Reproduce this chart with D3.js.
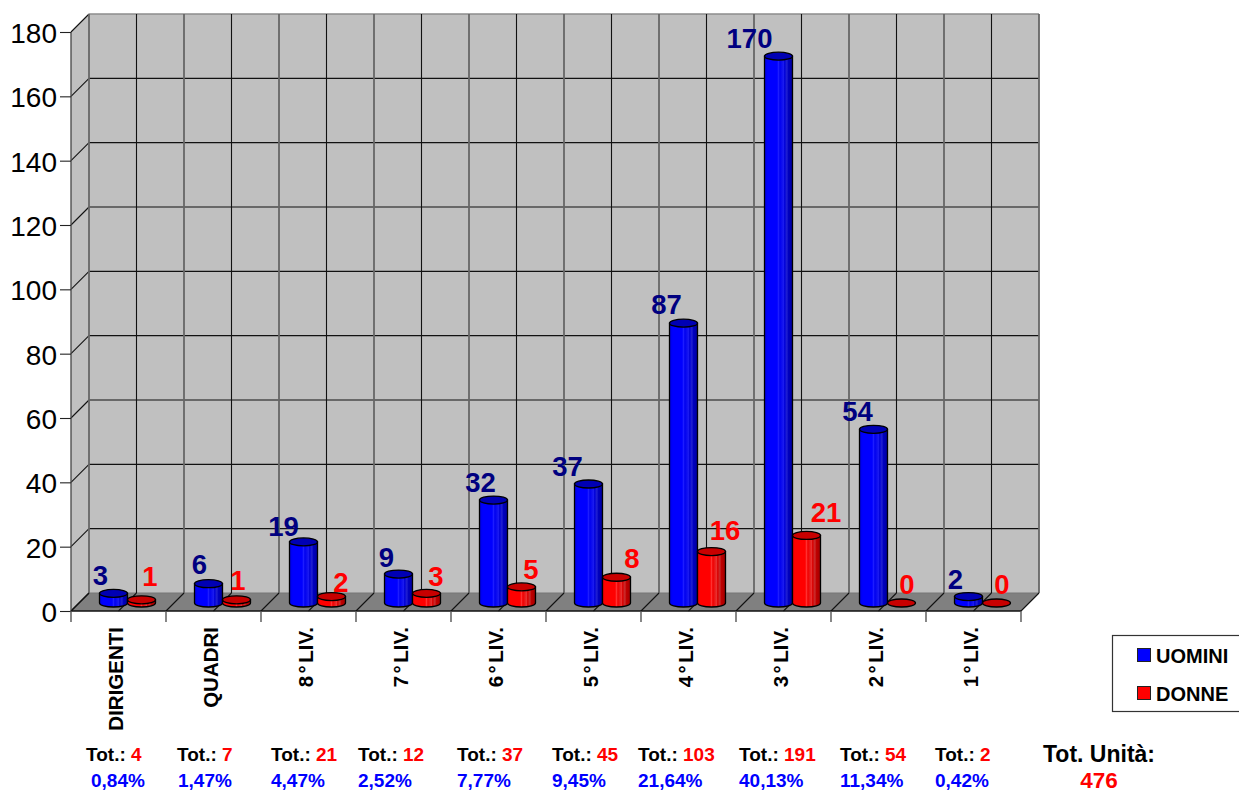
<!DOCTYPE html>
<html><head><meta charset="utf-8">
<script src="https://cdn.jsdelivr.net/npm/d3@7/dist/d3.min.js"></script>
<style>html,body{margin:0;padding:0;background:#fff;overflow:hidden}svg{display:block}text{font-family:"Liberation Sans",Arial,sans-serif}</style>
</head><body><svg id="c" width="1239" height="793"></svg>
<script>
const categories=["DIRIGENTI","QUADRI","8°LIV.","7°LIV.","6°LIV.","5°LIV.","4°LIV.","3°LIV.","2°LIV.","1°LIV."];
const uomini=[3,6,19,9,32,37,87,170,54,2];
const donne=[1,1,2,3,5,8,16,21,0,0];
const totali=[4,7,21,12,37,45,103,191,54,2];
const percentuali=["0,84%","1,47%","4,47%","2,52%","7,77%","9,45%","21,64%","40,13%","11,34%","0,42%"];
const yTicks=[0,20,40,60,80,100,120,140,160,180];
const totaleUnita=476;

const svg=d3.select("#c");
const F="Liberation Sans";
const x0=71,x1=1021,dx=18,dy=18,yBot=611,yTop=32;
const x=d3.scaleBand().domain(categories).range([x0,x1]);
const y=d3.scaleLinear().domain([0,180]).range([yBot,yTop]);
const sub=d3.scaleBand().domain(["u","d"]).range([28.5,84.5]);
const bw=28,ry=4,lift=8;

// gradients
const defs=svg.append("defs");
function grad(id,stops){
  const g=defs.append("linearGradient").attr("id",id);
  stops.forEach(s=>g.append("stop").attr("offset",s[0]).attr("stop-color",s[1]));
}
grad("gu",[[0,"#0000e0"],[.12,"#0000ff"],[.45,"#0000ff"],[.5,"#1c1cff"],[.55,"#0000f0"],[.68,"#1a1af0"],[.72,"#0000d8"],[.8,"#2222d0"],[.85,"#0000c0"],[1,"#00009c"]]);
grad("gd",[[0,"#f00000"],[.1,"#ff0000"],[.45,"#ff0000"],[.5,"#ff3030"],[.55,"#f00000"],[.68,"#e83030"],[.72,"#d80000"],[.8,"#c83030"],[.85,"#c00000"],[1,"#a00000"]]);

// walls
svg.append("polygon").attr("fill","#c0c0c0")
  .attr("points",[[x0,yBot],[x0+dx,yBot-dy],[x0+dx,yTop-dy],[x0,yTop]].join(" "));
svg.append("rect").attr("fill","#c0c0c0").attr("x",x0+dx).attr("y",yTop-dy).attr("width",x1-x0).attr("height",yBot-yTop);
svg.append("polygon").attr("fill","#808080")
  .attr("points",[[x0,yBot],[x1,yBot],[x1+dx,yBot-dy],[x0+dx,yBot-dy]].join(" "));

// horizontal grid + wall diagonals
yTicks.forEach(t=>{
  const p=y(t);
  if(t>0 && t<180) svg.append("line").attr("x1",x0+dx).attr("x2",x1+dx).attr("y1",p-dy).attr("y2",p-dy).attr("stroke","#111").attr("stroke-width",1.2);
  svg.append("line").attr("x1",x0).attr("x2",x0+dx).attr("y1",p).attr("y2",p-dy).attr("stroke","#111").attr("stroke-width",1.1);
});
// top and back edges
svg.append("line").attr("x1",x0+dx).attr("x2",x1+dx).attr("y1",yTop-dy).attr("y2",yTop-dy).attr("stroke","#8c8c8c").attr("stroke-width",1.5);
svg.append("line").attr("x1",x0+dx).attr("x2",x1+dx).attr("y1",yBot-dy).attr("y2",yBot-dy).attr("stroke","#777").attr("stroke-width",1);

// vertical grid and floor diagonals at each half step
const step=x.bandwidth()/2;
d3.range(0,categories.length*2+1).forEach(i=>{
  const px=x0+i*step, major=i%2===0;
  svg.append("line").attr("x1",px+dx).attr("x2",px+dx).attr("y1",yTop-dy).attr("y2",yBot-dy)
    .attr("stroke",major?"#666":"#111").attr("stroke-width",major?1.8:1.1);
  svg.append("line").attr("x1",px).attr("x2",px+dx).attr("y1",yBot).attr("y2",yBot-dy)
    .attr("stroke","#111").attr("stroke-width",1.1);
});

// axes
const ax=svg.append("g").attr("transform",`translate(${x0},0)`)
  .call(d3.axisLeft(y).tickValues(yTicks).tickSize(11).tickPadding(3));
ax.selectAll("text").attr("font-size",28).attr("font-family",F).attr("fill","#000").attr("dy","0.37em");
ax.selectAll("line").attr("stroke","#222").attr("stroke-width",1.1);
ax.select(".domain").attr("stroke","#444").attr("stroke-width",1.3).attr("d",`M0,${yTop}V${yBot}`);

const bx=svg.append("g").attr("transform",`translate(0,${yBot})`);
bx.append("line").attr("x1",x0).attr("x2",x1).attr("stroke","#111").attr("stroke-width",1.4);
d3.range(0,categories.length+1).forEach(i=>{
  bx.append("line").attr("x1",x0+i*x.bandwidth()).attr("x2",x0+i*x.bandwidth()).attr("y1",0).attr("y2",11).attr("stroke","#555").attr("stroke-width",1.4);
});

// cylinders
function cyl(cx,v,gid,topFill){
  const yb=y(v)-lift, ybase=y(0)-lift, l=cx-bw/2, r=cx+bw/2;
  const g=svg.append("g");
  if(v>0){
    g.append("path").attr("fill",`url(#${gid})`).attr("stroke","#000").attr("stroke-width",1.3)
      .attr("d",`M${l},${yb}V${ybase}A${bw/2},${ry} 0 0 0 ${r},${ybase}V${yb}Z`);
  }
  g.append("ellipse").attr("cx",cx).attr("cy",yb).attr("rx",bw/2).attr("ry",ry)
    .attr("fill",topFill).attr("stroke","#000").attr("stroke-width",1.3);
}
categories.forEach((c,i)=>{
  cyl(x(c)+sub("u")+bw/2,uomini[i],"gu","#0000b4");
  cyl(x(c)+sub("d")+bw/2,donne[i],"gd","#c80000");
});

// value labels, placed by hand off the bar tops
const blueNudge=[[-13,-4],[-9,-6],[-20,-2],[-12,-3],[-13,-4],[-21,-4],[-17,-5],[-29,-4],[-16,-4],[-13,-4]];
const redNudge=[[9,-10],[2,-6],[10,-1],[10,-3],[10,-4],[16,-5],[14,-8],[20,-9],[6,-5],[6,-5]];
const lbl=(vals,off,nudge,col)=>categories.forEach((c,i)=>{
  svg.append("text").attr("x",x(c)+off+nudge[i][0]).attr("y",y(vals[i])-lift-ry+nudge[i][1])
    .attr("text-anchor","middle").attr("font-size",27.5).attr("font-weight","bold").attr("fill",col).text(vals[i]);
});
lbl(uomini,42.5,blueNudge,"#000080");
lbl(donne,70,redNudge,"#ff0000");

// category labels
categories.forEach(c=>{
  const cx=x(c)+x.bandwidth()/2-1;
  const t=svg.append("text").attr("transform",`translate(${cx+5},627) rotate(-90)`)
    .attr("text-anchor","end").attr("font-size",20.5).attr("font-weight","bold").attr("fill","#000");
  const k=c.indexOf("°");
  if(k<0) t.text(c);
  else{
    t.append("tspan").text(c.slice(0,k));
    t.append("tspan").attr("dx",2.5).text("°");
    t.append("tspan").attr("dx",2.5).text(c.slice(k+1));
  }
});

// totals
const totX=[86,177,271,358,457,552,638,739,840,935];
const pctX=[91,178,271,358,457,552,638,739,840,935];
totali.forEach((t,i)=>{
  const tx=svg.append("text").attr("x",totX[i]).attr("y",761).attr("font-size",19).attr("font-weight","bold");
  tx.append("tspan").attr("fill","#000").text("Tot.: ");
  tx.append("tspan").attr("fill","#ff0000").text(t);
  svg.append("text").attr("x",pctX[i]).attr("y",787).attr("font-size",19).attr("font-weight","bold").attr("fill","#0000ff").text(percentuali[i]);
});
svg.append("text").attr("x",1043).attr("y",762).attr("font-size",23).attr("font-weight","bold").attr("fill","#000").text("Tot. Unità:");
svg.append("text").attr("x",1099).attr("y",788).attr("text-anchor","middle").attr("font-size",22.5).attr("font-weight","bold").attr("fill","#ff0000").text(totaleUnita);

// legend
svg.append("rect").attr("x",1112.5).attr("y",635.5).attr("width",140).attr("height",76).attr("fill","#fff").attr("stroke","#333").attr("stroke-width",1.2);
[["UOMINI","#0000ff",648],["DONNE","#ff0000",686]].forEach(d=>{
  svg.append("rect").attr("x",1137.5).attr("y",d[2]+.5).attr("width",13).attr("height",13).attr("fill",d[1]).attr("stroke","#222");
  svg.append("text").attr("x",1156).attr("y",d[2]+14.5).attr("font-size",20).attr("font-weight","bold").attr("fill","#000").text(d[0]);
});
</script></body></html>
